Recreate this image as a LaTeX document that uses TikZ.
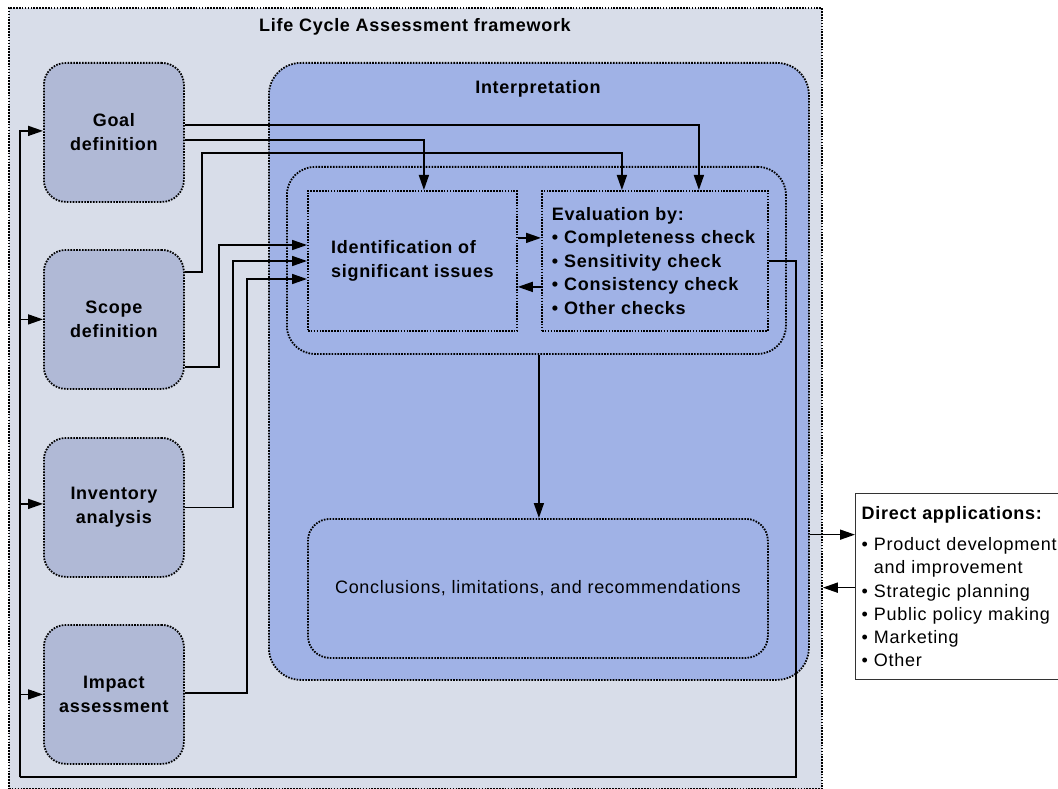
\documentclass[tikz,border=0pt]{standalone}
\usepackage{fontspec}
\setmainfont{Liberation Sans}[LetterSpace=4]
\usetikzlibrary{arrows.meta}
\definecolor{outerfill}{HTML}{D8DDE9}
\definecolor{stagefill}{HTML}{B0B9D6}
\definecolor{interpfill}{HTML}{A0B2E6}
\begin{document}
\begin{tikzpicture}[x=1pt,y=-1pt,
  font=\fontsize{18}{23.5}\selectfont,
  dotframe/.style={draw=black, line width=1.8pt, dash pattern=on 1.6pt off 1.3pt},
  boxnode/.style={dotframe, anchor=north west, inner sep=0pt, align=center},
  stage/.style={boxnode, fill=stagefill, rounded corners=22pt, minimum width=140pt, minimum height=139pt, font=\fontsize{18}{24}\selectfont\bfseries},
  arr/.style={draw=black, line width=1.6pt, -{Triangle[length=15pt,width=10pt]}},
  plain/.style={draw=black, line width=1.6pt}
]
\useasboundingbox (0,0) rectangle (1058,789);
\node[boxnode, fill=outerfill, minimum width=813pt, minimum height=781pt] (lca) at (8,7) {};
\node[anchor=base, font=\fontsize{18}{23.5}\selectfont\bfseries] (lcat) at (415,31.5) {Life Cycle Assessment framework};

\node[stage] (goal) at (43,62) {Goal\\definition};
\node[stage] (scope) at (43,249) {Scope\\definition};
\node[stage] (inv) at (43,437) {Inventory\\analysis};
\node[stage] (impact) at (43,624) {Impact\\assessment};

\node[boxnode, fill=interpfill, rounded corners=32pt, minimum width=540pt, minimum height=617pt] (interp) at (268,62) {};
\node[anchor=base, font=\fontsize{18}{23.5}\selectfont\bfseries] (interpt) at (538,93.5) {Interpretation};
\node[boxnode, rounded corners=28pt, minimum width=499pt, minimum height=187pt] (inner) at (286,166) {};
\node[boxnode, minimum width=209pt, minimum height=140pt, font=\fontsize{18}{23.5}\selectfont\bfseries, align=left] (ident) at (307,190) {Identification of\\significant issues};
\node[boxnode, minimum width=226pt, minimum height=140pt, inner xsep=10pt, text width=206pt, align=left, font=\fontsize{18}{23.5}\selectfont\bfseries] (eval) at (541,190) {Evaluation by:\\• Completeness check\\• Sensitivity check\\• Consistency check\\• Other checks};
\node[boxnode, rounded corners=22pt, minimum width=460pt, minimum height=139pt] (concl) at (307,518) {Conclusions, limitations, and recommendations};

\node[draw=black!80, line width=1.3pt, fill=white, anchor=north west, inner ysep=0pt, inner xsep=6pt, text width=204pt, minimum height=186pt, align=left, font=\fontsize{18}{23.3}\selectfont] (apps) at (855,493) {{\bfseries Direct applications:}\\[8pt]• Product development\\\phantom{• }and improvement\\• Strategic planning\\• Public policy making\\• Marketing\\• Other};

% connectors from goal
\draw[arr] ([yshift=7.5pt]goal.east) -| ([xshift=44pt]eval.north);
\draw[arr] ([yshift=-7.5pt]goal.east) -| ([xshift=11.5pt]ident.north);
% scope
\coordinate (b1) at (202,153);
\draw[arr] ([yshift=47.5pt]scope.east) -| (b1) -| ([xshift=-33pt]eval.north);
\coordinate (b2) at (219,245);
\draw[arr] ([yshift=-47.5pt]scope.east) -| (b2) -- (b2 -| ident.west);
\coordinate (b3) at (233,261);
\draw[arr] (inv.east) -| (b3) -- (b3 -| ident.west);
\coordinate (b4) at (247,279);
\draw[arr] ([yshift=1.5pt]impact.east) -| (b4) -- (b4 -| ident.west);
% between ident and eval
\draw[arr] ([yshift=23pt]ident.east) -- ([yshift=23pt]eval.west);
\draw[arr] ([yshift=-26pt]eval.west) -- ([yshift=-26pt]ident.east);
% feedback loop
\coordinate (b5) at (796,777);
\coordinate (b6) at (20,777);
\draw[plain] (eval.east) -| (b5) -- (b6);
\draw[arr] (b6) |- ([yshift=1.5pt]goal.west);
\draw[arr] (b6) |- (scope.west);
\draw[arr] (b6) |- ([yshift=3.5pt]inv.west);
\draw[arr] (b6) |- (impact.west);
% to conclusions
\draw[arr] ([xshift=1pt]concl.north |- inner.south) -- ([xshift=1pt]concl.north);
% direct applications
\coordinate (a1) at ([yshift=52pt]apps.west);
\draw[arr] (a1 -| interp.east) -- (a1);
\coordinate (a2) at ([yshift=-1pt]apps.west);
\draw[arr] (a2) -- (a2 -| lca.east);
\end{tikzpicture}
\end{document}
